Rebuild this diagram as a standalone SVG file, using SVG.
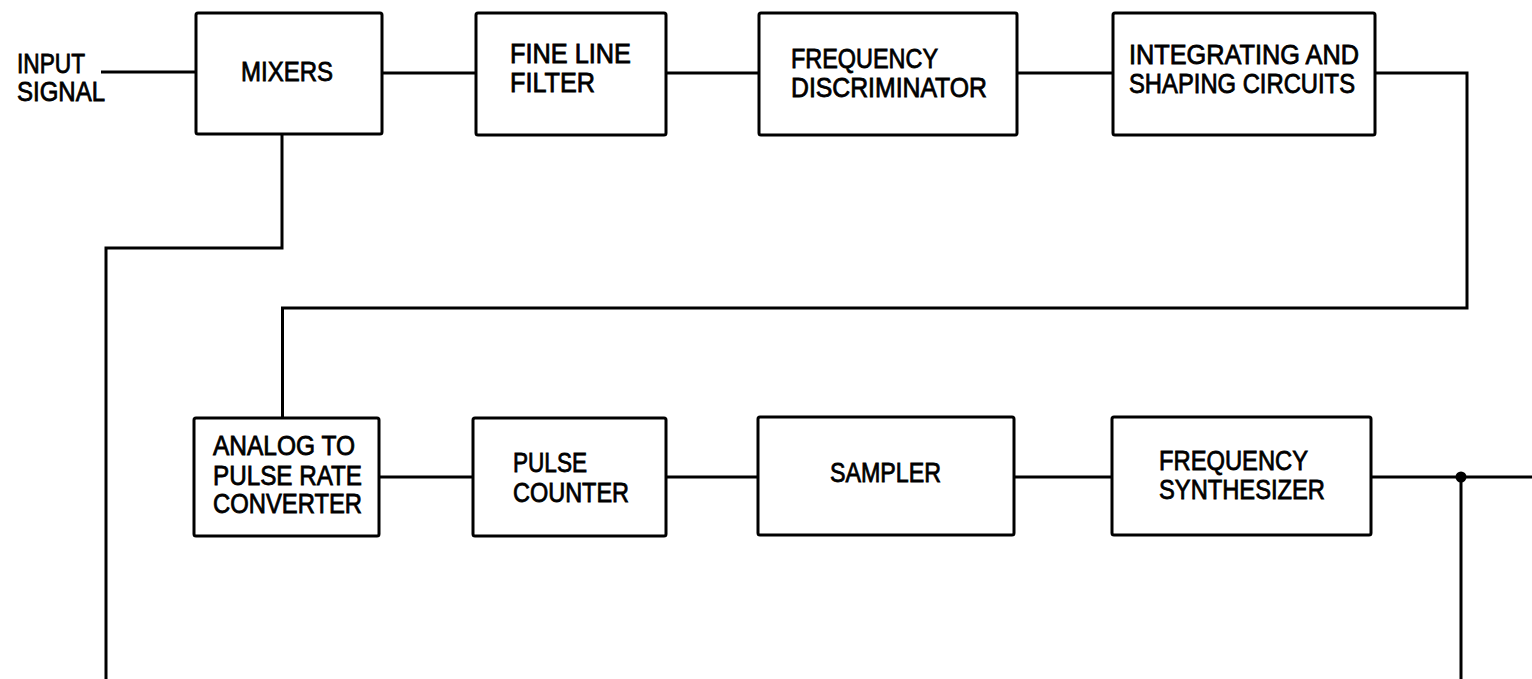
<svg xmlns="http://www.w3.org/2000/svg" width="1532" height="679" viewBox="0 0 1532 679">
<style>
.box{fill:#fff;stroke:#000;stroke-width:3}
.ln{fill:none;stroke:#000;stroke-width:3;stroke-linejoin:miter}
text{font-family:"Liberation Sans",Arial,sans-serif;font-size:27px;fill:#000;stroke:#000;stroke-width:0.8}
</style>
<rect width="1532" height="679" fill="#fff"/>
<g id="connectors">
<polyline class="ln" points="101,72 196,72"/>
<polyline class="ln" points="382,73 476,73"/>
<polyline class="ln" points="666,73 759,73"/>
<polyline class="ln" points="1017,73 1113,73"/>
<polyline class="ln" points="1375,73 1467,73 1467,308 282.5,308 282.5,418"/>
<polyline class="ln" points="282,134 282,248 106,248 106,679"/>
<polyline class="ln" points="379,477 473,477"/>
<polyline class="ln" points="666,477 758,477"/>
<polyline class="ln" points="1014,477 1112,477"/>
<polyline class="ln" points="1371,477 1532,477"/>
<polyline class="ln" points="1461,477 1461,679"/>
<circle cx="1461" cy="477" r="5.5" fill="#000"/>
</g>
<g id="input-label">
<text x="17" y="73" textLength="68" lengthAdjust="spacingAndGlyphs">INPUT</text>
<text x="17" y="101" textLength="88" lengthAdjust="spacingAndGlyphs">SIGNAL</text>
</g>
<g id="mixers">
<rect class="box" x="196" y="13" width="186" height="121" rx="2"/>
<text x="241" y="81" textLength="92" lengthAdjust="spacingAndGlyphs">MIXERS</text>
</g>
<g id="fine-line-filter">
<rect class="box" x="476" y="13" width="190" height="122" rx="2"/>
<text x="510" y="63" textLength="121" lengthAdjust="spacingAndGlyphs">FINE LINE</text>
<text x="510" y="92" textLength="85" lengthAdjust="spacingAndGlyphs">FILTER</text>
</g>
<g id="frequency-discriminator">
<rect class="box" x="759" y="13" width="258" height="122" rx="2"/>
<text x="791" y="68" textLength="147" lengthAdjust="spacingAndGlyphs">FREQUENCY</text>
<text x="791" y="97" textLength="196" lengthAdjust="spacingAndGlyphs">DISCRIMINATOR</text>
</g>
<g id="integrating-shaping">
<rect class="box" x="1113" y="13" width="262" height="122" rx="2"/>
<text x="1129" y="64" textLength="230" lengthAdjust="spacingAndGlyphs">INTEGRATING AND</text>
<text x="1129" y="93" textLength="226" lengthAdjust="spacingAndGlyphs">SHAPING CIRCUITS</text>
</g>
<g id="analog-to-pulse-rate-converter">
<rect class="box" x="194" y="418" width="185" height="118" rx="2"/>
<text x="213" y="455" textLength="142" lengthAdjust="spacingAndGlyphs">ANALOG TO</text>
<text x="213" y="485" textLength="149" lengthAdjust="spacingAndGlyphs">PULSE RATE</text>
<text x="213" y="513" textLength="149" lengthAdjust="spacingAndGlyphs">CONVERTER</text>
</g>
<g id="pulse-counter">
<rect class="box" x="473" y="418" width="193" height="118" rx="2"/>
<text x="513" y="472" textLength="74" lengthAdjust="spacingAndGlyphs">PULSE</text>
<text x="513" y="502" textLength="116" lengthAdjust="spacingAndGlyphs">COUNTER</text>
</g>
<g id="sampler">
<rect class="box" x="758" y="417" width="256" height="118" rx="2"/>
<text x="830" y="482" textLength="111" lengthAdjust="spacingAndGlyphs">SAMPLER</text>
</g>
<g id="frequency-synthesizer">
<rect class="box" x="1112" y="417" width="259" height="118" rx="2"/>
<text x="1159" y="470" textLength="149" lengthAdjust="spacingAndGlyphs">FREQUENCY</text>
<text x="1159" y="499" textLength="166" lengthAdjust="spacingAndGlyphs">SYNTHESIZER</text>
</g>
</svg>
